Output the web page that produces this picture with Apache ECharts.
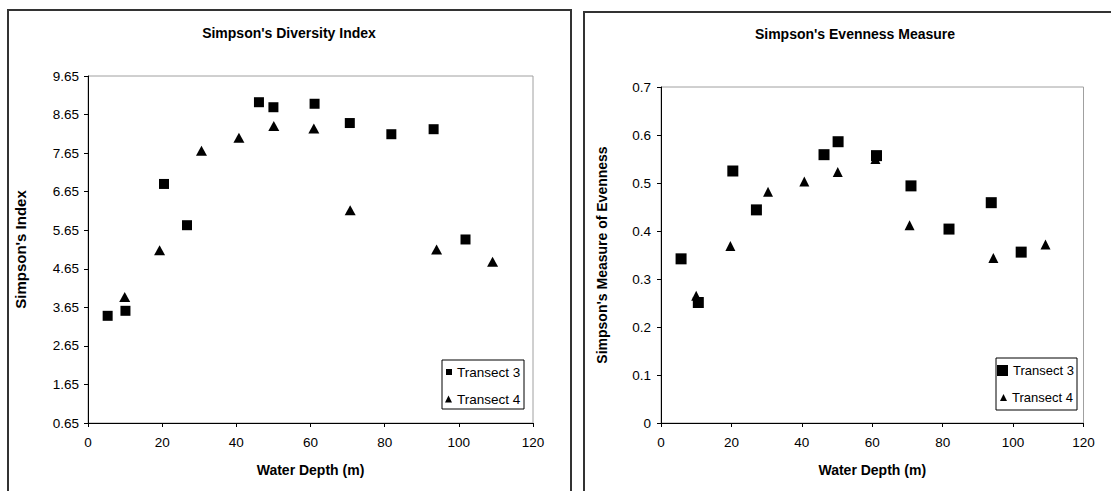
<!DOCTYPE html>
<html>
<head>
<meta charset="utf-8">
<script src="https://cdn.jsdelivr.net/npm/echarts@6/dist/echarts.min.js"></script>
<style>
html,body{margin:0;padding:0;background:#fff;}
#chart{width:1111px;height:491px;}
</style>
</head>
<body>
<div id="chart"></div>
<script>
// ---- Data ----
// Left chart: Simpson's Diversity Index
const t3DepthDiv = [5.3, 10.1, 20.5, 26.7, 46.1, 50.0, 61.1, 70.6, 81.8, 93.2, 101.8];
const t3Diversity = [3.43, 3.56, 6.85, 5.78, 8.97, 8.84, 8.93, 8.43, 8.14, 8.27, 5.41];
const t4DepthDiv = [9.9, 19.3, 30.6, 40.7, 50.1, 60.9, 70.7, 94.0, 109.1];
const t4Diversity = [3.92, 5.13, 7.71, 8.05, 8.35, 8.29, 6.17, 5.15, 4.83];

// Right chart: Simpson's Evenness Measure
const t3DepthEven = [5.7, 10.6, 20.4, 27.1, 46.3, 50.3, 61.2, 71.0, 81.8, 93.8, 102.3];
const t3Evenness = [0.342, 0.251, 0.525, 0.444, 0.559, 0.586, 0.557, 0.494, 0.404, 0.459, 0.356];
const t4DepthEven = [10.0, 19.7, 30.4, 40.7, 50.2, 60.9, 70.6, 94.4, 109.2];
const t4Evenness = [0.265, 0.369, 0.482, 0.503, 0.523, 0.550, 0.412, 0.344, 0.372];

// Tick labels
const depthTicks = [0, 20, 40, 60, 80, 100, 120];
const diversityTicks = [0.65, 1.65, 2.65, 3.65, 4.65, 5.65, 6.65, 7.65, 8.65, 9.65];
const evennessTicks = [0, 0.1, 0.2, 0.3, 0.4, 0.5, 0.6, 0.7];

const seriesNames = ['Transect 3', 'Transect 4'];
const titles = ["Simpson's Diversity Index", "Simpson's Evenness Measure"];
const xAxisTitle = 'Water Depth (m)';
const yAxisTitles = ["Simpson's Index", "Simpson's Measure of Evenness"];

// ---- Build chart ----
const FONT = "'Liberation Sans', Arial, sans-serif";
const TICK_FS = 13.5;
const pair = (xs, ys) => xs.map((x, i) => [x, ys[i]]);

const chart = echarts.init(document.getElementById('chart'), null, {renderer: 'svg'});

const xAxisBase = (gridIndex) => ({
  type: 'value', gridIndex,
  min: depthTicks[0], max: depthTicks[depthTicks.length - 1],
  interval: depthTicks[1] - depthTicks[0],
  name: xAxisTitle, nameLocation: 'middle', nameGap: 40,
  nameTextStyle: {fontFamily: FONT, fontWeight: 'bold', fontSize: 14, color: '#000'},
  axisLine: {show: true, onZero: false, lineStyle: {color: '#000', width: 1}},
  axisTick: {show: true, length: 4, lineStyle: {color: '#000'}},
  axisLabel: {fontFamily: FONT, fontSize: TICK_FS, color: '#000', margin: 12},
  splitLine: {show: false}
});

const legendText = {fontFamily: FONT, fontSize: TICK_FS, color: '#000'};
const legendTextR = {fontFamily: FONT, fontSize: 13, color: '#000'};

const option = {
  animation: false,
  backgroundColor: '#fff',
  grid: [
    {left: 88, right: 1111 - 533, top: 76, bottom: 491 - 423, show: true, borderColor: '#a0a0a0', borderWidth: 1, backgroundColor: 'transparent'},
    {left: 661, right: 1111 - 1083.5, top: 87, bottom: 491 - 423, show: true, borderColor: '#a0a0a0', borderWidth: 1, backgroundColor: 'transparent'}
  ],
  xAxis: [xAxisBase(0), xAxisBase(1)],
  yAxis: [
    {
      type: 'value', gridIndex: 0,
      min: diversityTicks[0], max: diversityTicks[diversityTicks.length - 1],
      name: yAxisTitles[0], nameLocation: 'middle', nameGap: 60, nameRotate: 90,
      nameTextStyle: {fontFamily: FONT, fontWeight: 'bold', fontSize: 15, color: '#000'},
      axisLine: {show: true, onZero: false, lineStyle: {color: '#000', width: 1}},
      axisTick: {show: true, length: 4, customValues: diversityTicks, lineStyle: {color: '#000'}},
      axisLabel: {fontFamily: FONT, fontSize: TICK_FS, color: '#000', margin: 9, customValues: diversityTicks,
        formatter: v => v.toFixed(2)},
      splitLine: {show: false}
    },
    {
      type: 'value', gridIndex: 1,
      min: evennessTicks[0], max: evennessTicks[evennessTicks.length - 1],
      interval: 0.1,
      name: yAxisTitles[1], nameLocation: 'middle', nameGap: 52, nameRotate: 90,
      nameTextStyle: {fontFamily: FONT, fontWeight: 'bold', fontSize: 14, color: '#000'},
      axisLine: {show: true, onZero: false, lineStyle: {color: '#000', width: 1}},
      axisTick: {show: true, length: 4, lineStyle: {color: '#000'}},
      axisLabel: {fontFamily: FONT, fontSize: TICK_FS, color: '#000', margin: 10,
        formatter: v => String(Math.round(v * 10) / 10)},
      splitLine: {show: false}
    }
  ],
  legend: [
    {left: 446, top: 365, padding: 0, itemWidth: 6, itemHeight: 6, data: [{name: seriesNames[0], icon: 'rect'}],
      textStyle: legendText, selectedMode: false},
    {left: 445, top: 392, padding: 0, itemWidth: 7, itemHeight: 7, data: [{name: seriesNames[1], icon: 'triangle'}],
      textStyle: legendText, selectedMode: false},
    {left: 997, top: 364, padding: 0, itemWidth: 11, itemHeight: 11, data: [{name: seriesNames[0], icon: 'rect'}],
      textStyle: legendTextR, selectedMode: false},
    {left: 1000, top: 391, padding: 0, itemWidth: 7, itemHeight: 7, data: [{name: seriesNames[1], icon: 'triangle'}],
      textStyle: legendTextR, selectedMode: false}
  ],
  series: [
    {name: seriesNames[1], type: 'scatter', xAxisIndex: 0, yAxisIndex: 0, symbol: 'triangle', symbolSize: [11, 10],
      itemStyle: {color: '#000', opacity: 1}, data: pair(t4DepthDiv, t4Diversity), z: 2},
    {name: seriesNames[0], type: 'scatter', xAxisIndex: 0, yAxisIndex: 0, symbol: 'rect', symbolSize: 10,
      itemStyle: {color: '#000', opacity: 1}, data: pair(t3DepthDiv, t3Diversity), z: 3},
    {name: seriesNames[1], type: 'scatter', xAxisIndex: 1, yAxisIndex: 1, symbol: 'triangle', symbolSize: [10, 10],
      itemStyle: {color: '#000', opacity: 1}, data: pair(t4DepthEven, t4Evenness), z: 2},
    {name: seriesNames[0], type: 'scatter', xAxisIndex: 1, yAxisIndex: 1, symbol: 'rect', symbolSize: 11,
      itemStyle: {color: '#000', opacity: 1}, data: pair(t3DepthEven, t3Evenness), z: 3}
  ],
  graphic: [
    {type: 'rect', shape: {x: 8, y: 10, width: 563, height: 520}, style: {fill: 'none', stroke: '#333', lineWidth: 2}, z: 10, silent: true},
    {type: 'rect', shape: {x: 584, y: 12, width: 560, height: 520}, style: {fill: 'none', stroke: '#333', lineWidth: 2}, z: 10, silent: true},
    {type: 'rect', shape: {x: 442, y: 360, width: 82, height: 49}, style: {fill: 'none', stroke: '#000', lineWidth: 1}, z: 10, silent: true},
    {type: 'rect', shape: {x: 996, y: 358, width: 81, height: 52}, style: {fill: 'none', stroke: '#000', lineWidth: 1}, z: 10, silent: true},
    {type: 'text', x: 289, y: 33, style: {text: titles[0], font: "bold 14px " + FONT, fill: '#000', align: 'center', verticalAlign: 'middle'}, z: 10},
    {type: 'text', x: 855, y: 34, style: {text: titles[1], font: "bold 14px " + FONT, fill: '#000', align: 'center', verticalAlign: 'middle'}, z: 10}
  ]
};
chart.setOption(option);
</script>
</body>
</html>
